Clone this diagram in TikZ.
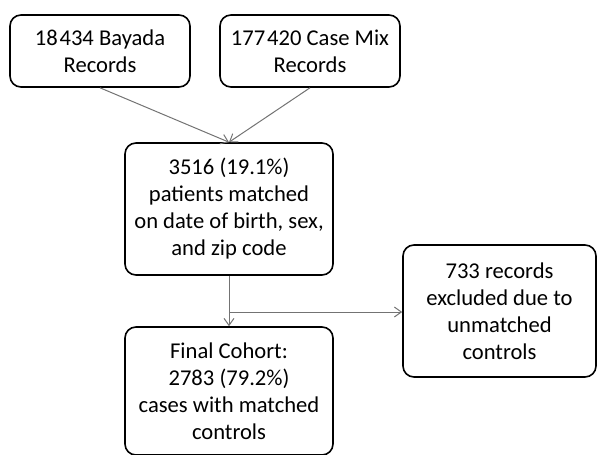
\documentclass[tikz,border=0pt]{standalone}
\usepackage{fontspec}
\setmainfont{Carlito}
\usetikzlibrary{arrows.meta}
\tikzset{
  box/.style={draw=black, line width=1.6pt, rounded corners=11pt, align=center,
    inner sep=0pt, font=\fontsize{22.6}{27}\selectfont},
  flow/.style={draw=black!55, line width=1pt, -{Straight Barb[length=7pt,width=10pt]}}
}

\begin{document}
\begin{tikzpicture}[x=1pt,y=1pt]
			%%%%% START %%%%%
			\def\wsm{180}
			\def\hsm{72}
			\def\wlg{208}
			\def\hlg{132}
			\def\xmid{229}
			\def\thsp{\hspace{0.08em}}
			
			\useasboundingbox (0,0) rectangle (597,-455);
			
			\node[box, minimum width=\wsm, minimum height=\hsm] (bayada) at (100,-51) {18\thsp434 Bayada\\Records};
			\node[box, minimum width=\wsm, minimum height=\hsm] (casemix) at (310,-51) {177\thsp420 Case Mix\\Records};
			\node[box, minimum width=\wlg, minimum height=\hlg] (matched) at (\xmid,-209) {3516 (19.1\%)\\patients matched\\on date of birth, sex,\\and zip code};
			\node[box, minimum width=\wlg, minimum height=128] (cohort) at (\xmid,-391) {Final Cohort:\\2783 (79.2\%)\\cases with matched\\controls};
			\node[box, minimum width=193, minimum height=\hlg] (excluded) at (499.5,-311) {733 records\\excluded due to\\unmatched\\controls};
			
			\coordinate (split) at (\xmid,-312);
			
			\draw[flow] (bayada.south) -- (matched.north);
			\draw[flow] (casemix.south) -- (matched.north);
			\draw[flow] (matched.south) -- (cohort.north);
			\draw[flow] (split) -- (excluded.west |- split);
			%%%%% END %%%%%
\end{tikzpicture}
\end{document}
